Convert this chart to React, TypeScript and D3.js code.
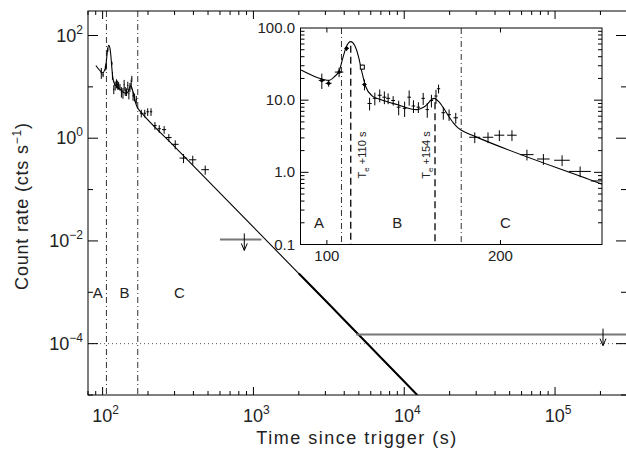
import React, { useEffect, useRef } from 'react';
import * as d3 from 'd3';

// phase A/B points (inset data, also drawn in main panel)
const earlyTimes = [98.0, 100.7, 105.0, 108.2, 115.2, 116.2, 118.6, 121.1, 123.5, 125.8, 127.7, 130.3, 133.2, 136.4, 138.9, 141.3, 144.1, 146.9, 149.3, 151.8, 154.6, 156.2, 159.2, 162.9, 167.3];
const earlyRates = [18.8, 17.1, 24.5, 52.2, 28.7, 16.5, 9.0, 10.6, 11.7, 11.0, 10.6, 9.9, 8.0, 7.7, 11.0, 8.3, 8.0, 10.6, 7.4, 9.9, 11.4, 14.4, 6.7, 6.3, 5.7];
const earlyRateErr = [0.24, 0.1, 0.15, 0.08, 0.08, 0.17, 0.2, 0.2, 0.2, 0.2, 0.17, 0.15, 0.23, 0.24, 0.24, 0.2, 0.17, 0.19, 0.23, 0.2, 0.22, 0.14, 0.2, 0.18, 0.17];
const earlyTimeErr = [1.2, 1.2, 1.8, 1, 1, 1, 1, 1, 1, 1, 1, 1, 1, 1, 1, 1, 1, 1, 1, 1, 1, 1, 1.2, 1.2, 1.5];
const earlyMarker = ['dot', 'dot', 'dot', 'dot', 'square', 'dot', '', '', '', '', '', '', '', '', '', '', '', '', '', '', '', '', '', '', ''];

// phase C points
const lateTimes = [180.5, 190.3, 199.1, 209.4, 222.3, 237.4, 255.8, 274.9, 303, 344, 396, 479];
const lateRates = [3.06, 3.06, 3.27, 3.27, 1.76, 1.53, 1.47, 1.03, 0.76, 0.41, 0.38, 0.244];
const lateTimeErr = [4, 4, 4, 4, 6, 6, 8, 12, 16, 20, 22, 28];
const lateRateErr = [0.17, 0.17, 0.17, 0.17, 0.17, 0.17, 0.17, 0.17, 0.2, 0.2, 0.2, 0.2];

// model light curve
const modelTimes = [90.2, 96.4, 100.7, 103.0, 105.0, 106.8, 108.2, 110.0, 111.7, 113.4, 114.9, 116.7, 119.9, 123.9, 132.3, 143.3, 148.0, 153.4, 157.0, 161.2, 165.7, 169.0, 174.8, 180.5, 300, 1000, 2000, 3000, 12200];
const modelRates = [26.1, 20.5, 18.8, 21.1, 25.3, 40.8, 56.2, 64.7, 57.5, 40.8, 25.3, 15.6, 11.4, 10.2, 8.7, 7.4, 8.25, 10.6, 9.2, 6.7, 4.85, 4.1, 3.52, 3.15, 0.686, 0.0185, 0.00232, 0.00069, 0.00001];

// upper limits
const ulStart = [600, 4800];
const ulEnd = [1130, 3e5];
const ulRate = [0.0107, 1.5e-4];
const ulArrowAt = [870, 2.08e5];

const bkgRate = 1e-4;
const phaseBounds = [106, 171];
const phaseNames = ['A', 'B', 'C'];
const mainPhaseAt = [92.7, 139.8, 323.6];
const insetPhaseAt = [96.9, 132.5, 204];
const flareTimes = [110, 154];
const flareLabels = ['+110 s', '+154 s'];

const mainXTicks = [2, 3, 4, 5];
const mainYTicks = [2, 0, -2, -4];
const insetYTicks = [100, 10, 1, 0.1];
const insetYLabels = ['100.0', '10.0', '1.0', '0.1'];
const insetXTicks = [100, 200];

const FONT = 'Liberation Sans, Arial, sans-serif';

const App = () => {
  const svgRef = useRef<SVGSVGElement>(null);

  useEffect(() => {
    const svg = d3.select(svgRef.current);
    svg.selectAll('*').remove();

    const x = d3.scaleLog().domain([80, 3e5]).range([88, 627]);
    const y = d3.scaleLog().domain([1e-5, 300]).range([395, 11]);
    const xi = d3.scaleLog().domain([90, 300]).range([300.5, 602]);
    const yi = d3.scaleLog().domain([0.1, 100]).range([244.5, 28]);

    const early = earlyTimes.map((t, i) => ({ t, c: earlyRates[i], e: earlyRateErr[i], dt: earlyTimeErr[i], m: earlyMarker[i] }));
    const late = lateTimes.map((t, i) => ({ t, c: lateRates[i], e: lateRateErr[i], dt: lateTimeErr[i], m: '' }));
    const model = modelTimes.map((t, i) => [t, modelRates[i]] as [number, number]);

    const defs = svg.append('defs');
    defs.append('clipPath').attr('id', 'mainClip').append('rect')
      .attr('x', 88).attr('y', 11).attr('width', 539).attr('height', 384);
    defs.append('clipPath').attr('id', 'insetClip').append('rect')
      .attr('x', 300.5).attr('y', 28).attr('width', 301.5).attr('height', 216.5);

    const line = (sx, sy) => d3.line<[number, number]>()
      .x(d => sx(d[0])).y(d => sy(d[1])).curve(d3.curveMonotoneX);

    const crosses = (g, pts, sx, sy) => {
      pts.forEach(p => {
        g.append('line').attr('x1', sx(p.t - p.dt)).attr('x2', sx(p.t + p.dt))
          .attr('y1', sy(p.c)).attr('y2', sy(p.c));
        g.append('line').attr('x1', sx(p.t)).attr('x2', sx(p.t))
          .attr('y1', sy(p.c * (1 - p.e))).attr('y2', sy(p.c * (1 + p.e)));
      });
    };

    // ---------- main panel ----------
    const main = svg.append('g');
    const plot = main.append('g').attr('clip-path', 'url(#mainClip)');

    plot.append('line').attr('x1', 88).attr('x2', 627)
      .attr('y1', y(bkgRate)).attr('y2', y(bkgRate))
      .attr('stroke', '#555').attr('stroke-dasharray', '1,3');

    phaseBounds.forEach(b => {
      plot.append('line').attr('x1', x(b)).attr('x2', x(b)).attr('y1', 11).attr('y2', 395)
        .attr('stroke', '#333').attr('stroke-dasharray', '6,3,1,3');
    });

    plot.append('path').datum(model).attr('d', line(x, y))
      .attr('fill', 'none').attr('stroke', '#000').attr('stroke-width', 1.1);
    plot.append('path').datum(model.filter(d => d[0] >= 2000)).attr('d', line(x, y))
      .attr('fill', 'none').attr('stroke', '#000').attr('stroke-width', 2);

    const mc = plot.append('g').attr('stroke', '#000').attr('stroke-width', 1);
    crosses(mc, early, x, y);
    crosses(mc, late, x, y);

    ulRate.forEach((r, i) => {
      plot.append('line').attr('x1', x(ulStart[i])).attr('x2', x(ulEnd[i]))
        .attr('y1', y(r)).attr('y2', y(r)).attr('stroke', '#777').attr('stroke-width', 2);
      const ax = x(ulArrowAt[i]);
      const ay = y(r);
      plot.append('path')
        .attr('d', `M${ax},${ay - 6}V${ay + 11}M${ax - 3},${ay + 4}L${ax},${ay + 11}L${ax + 3},${ay + 4}`)
        .attr('fill', 'none').attr('stroke', '#000').attr('stroke-width', 1);
    });

    phaseNames.forEach((n, i) => {
      main.append('text').attr('x', x(mainPhaseAt[i])).attr('y', y(1e-3) + 6)
        .attr('text-anchor', 'middle').attr('font-size', 15).attr('fill', '#222').text(n);
    });

    // frame + ticks
    const axes = main.append('g').attr('stroke', '#000').attr('stroke-width', 1).attr('fill', 'none');
    axes.append('rect').attr('x', 88).attr('y', 11).attr('width', 539).attr('height', 384);
    for (let d = 1; d <= 5; d++) {
      for (let k = 1; k <= 9; k++) {
        const v = k * Math.pow(10, d);
        if (v < 80 || v > 3e5) continue;
        const len = k === 1 ? 8 : 4;
        axes.append('line').attr('x1', x(v)).attr('x2', x(v)).attr('y1', 395).attr('y2', 395 - len);
        axes.append('line').attr('x1', x(v)).attr('x2', x(v)).attr('y1', 11).attr('y2', 11 + len);
      }
    }
    for (let d = -5; d <= 2; d++) {
      const len = d % 2 === 0 ? 10 : 5;
      const v = Math.pow(10, d);
      axes.append('line').attr('x1', 88).attr('x2', 88 + len).attr('y1', y(v)).attr('y2', y(v));
      axes.append('line').attr('x1', 626).attr('x2', 626 - len).attr('y1', y(v)).attr('y2', y(v));
    }

    mainXTicks.forEach(d => {
      const t = main.append('text').attr('x', x(Math.pow(10, d)) + 3).attr('y', 422)
        .attr('text-anchor', 'middle').attr('font-size', 18).attr('fill', '#222');
      t.append('tspan').text('10');
      t.append('tspan').attr('dy', -8).attr('font-size', 12).text(String(d));
    });
    mainYTicks.forEach(d => {
      const t = main.append('text').attr('x', 83).attr('y', y(Math.pow(10, d)) + 6)
        .attr('text-anchor', 'end').attr('font-size', 18).attr('fill', '#222');
      t.append('tspan').text('10');
      t.append('tspan').attr('dy', -8).attr('font-size', 12).text(d < 0 ? '\u2212' + Math.abs(d) : String(d));
    });

    main.append('text').attr('x', 357).attr('y', 444).attr('text-anchor', 'middle')
      .attr('font-size', 18).attr('fill', '#222').attr('letter-spacing', 1.5).text('Time since trigger (s)');
    const yl = main.append('text').attr('transform', 'translate(28,206) rotate(-90)')
      .attr('text-anchor', 'middle').attr('font-size', 18).attr('fill', '#222').attr('letter-spacing', 0.8);
    yl.append('tspan').text('Count rate (cts s');
    yl.append('tspan').attr('dy', -7).attr('font-size', 12).text('\u22121');
    yl.append('tspan').attr('dy', 7).text(')');

    // ---------- inset ----------
    const inset = svg.append('g');
    inset.append('rect').attr('x', 300.5).attr('y', 28).attr('width', 301.5).attr('height', 216.5)
      .attr('fill', '#fff');
    const ip = inset.append('g').attr('clip-path', 'url(#insetClip)');

    phaseBounds.forEach(b => {
      ip.append('line').attr('x1', xi(b)).attr('x2', xi(b)).attr('y1', 28).attr('y2', 244.5)
        .attr('stroke', '#333').attr('stroke-dasharray', '6,3,1,3');
    });
    flareTimes.forEach(f => {
      const idx = modelTimes.reduce((b, t, i) => Math.abs(t - f) < Math.abs(modelTimes[b] - f) ? i : b, 0);
      ip.append('line').attr('x1', xi(f)).attr('x2', xi(f))
        .attr('y1', yi(modelRates[idx]) + 4).attr('y2', 244.5)
        .attr('stroke', '#000').attr('stroke-width', 1.3).attr('stroke-dasharray', '7,4');
    });

    ip.append('path').datum(model).attr('d', line(xi, yi))
      .attr('fill', 'none').attr('stroke', '#000').attr('stroke-width', 1.1);

    const ic = ip.append('g').attr('stroke', '#000').attr('stroke-width', 1);
    crosses(ic, early, xi, yi);
    crosses(ic, late, xi, yi);
    early.forEach(p => {
      if (p.m === 'dot') {
        ip.append('circle').attr('cx', xi(p.t)).attr('cy', yi(p.c)).attr('r', 1.8).attr('fill', '#000');
      } else if (p.m === 'square') {
        ip.append('rect').attr('x', xi(p.t) - 2).attr('y', yi(p.c) - 2).attr('width', 4).attr('height', 4)
          .attr('fill', '#fff').attr('stroke', '#000');
      }
    });

    phaseNames.forEach((n, i) => {
      inset.append('text').attr('x', xi(insetPhaseAt[i])).attr('y', yi(0.2) + 5)
        .attr('text-anchor', 'middle').attr('font-size', 15).attr('fill', '#222').text(n);
    });
    const labelOffset = [15, -5];
    flareTimes.forEach((f, i) => {
      const t = inset.append('text')
        .attr('transform', `translate(${xi(f) + labelOffset[i]},155) rotate(-90)`)
        .attr('text-anchor', 'middle').attr('font-size', 11).attr('fill', '#222');
      t.append('tspan').text('T');
      t.append('tspan').attr('dy', 3).attr('font-size', 8).text('e');
      t.append('tspan').attr('dy', -3).text(' ' + flareLabels[i]);
    });

    const ia = inset.append('g').attr('stroke', '#000').attr('stroke-width', 1).attr('fill', 'none');
    ia.append('rect').attr('x', 300.5).attr('y', 28).attr('width', 301.5).attr('height', 216.5);
    for (let d = -1; d <= 1; d++) {
      for (let k = 1; k <= 9; k++) {
        const v = k * Math.pow(10, d);
        const len = k === 1 ? 8 : 4;
        ia.append('line').attr('x1', 300.5).attr('x2', 300.5 + len).attr('y1', yi(v)).attr('y2', yi(v));
        ia.append('line').attr('x1', 602).attr('x2', 602 - len).attr('y1', yi(v)).attr('y2', yi(v));
      }
    }
    insetXTicks.forEach(v => {
      ia.append('line').attr('x1', xi(v)).attr('x2', xi(v)).attr('y1', 244.5).attr('y2', 240);
      ia.append('line').attr('x1', xi(v)).attr('x2', xi(v)).attr('y1', 28).attr('y2', 32.5);
      inset.append('text').attr('x', xi(v)).attr('y', 261).attr('text-anchor', 'middle')
        .attr('font-size', 15).attr('fill', '#222').text(String(v));
    });
    insetYTicks.forEach((v, i) => {
      inset.append('text').attr('x', 295).attr('y', yi(v) + 5).attr('text-anchor', 'end')
        .attr('font-size', 15).attr('fill', '#222').text(insetYLabels[i]);
    });
  }, []);

  return (
    <svg ref={svgRef} width={626} height={450}
      style={{ position: 'absolute', left: 0, top: 0, background: '#fff', fontFamily: FONT }} />
  );
};

export default App;
